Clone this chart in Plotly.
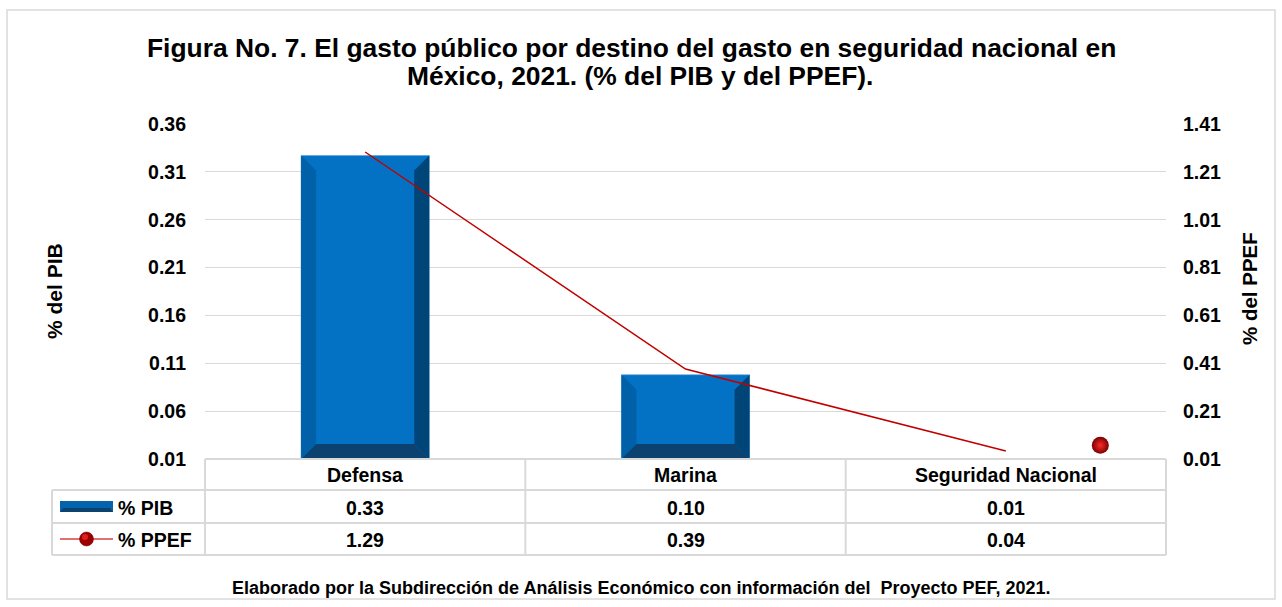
import plotly.graph_objects as go

# ---------------- data ----------------
categories = ["Defensa", "Marina", "Seguridad Nacional"]
pib = [0.327, 0.098, 0.010]
ppef = [1.293, 0.386, 0.043]
series_names = ["% PIB", "% PPEF"]
y1_ticks_range = [0.01, 0.36]
y2_ticks_range = [0.01, 1.41]
title_line1 = "Figura No. 7. El gasto público por destino del gasto en seguridad nacional en"
title_line2 = "México, 2021. (% del PIB y del PPEF)."
y_title = "% del PIB"
y2_title = "% del PPEF"
source = "Elaborado por la Subdirección de Análisis Económico con información del  Proyecto PEF, 2021."

# ---------------- layout geometry (pixels) ----------------
FW, FH = 1282, 607
L, R, T, B = 205, 1166, 124, 459
PW, PH = R - L, B - T


def px(x):
    return (x - L) / PW


def py(y):
    return (B - y) / PH


FONT = "Liberation Sans, Arial, sans-serif"
GRID = "#D9D9D9"
FACE = "#0472C4"
BEV_L = "#0060A8"
BEV_R = "#004578"
BEV_B = "#0C4270"
RED = "#C00000"

n = len(categories)
xs = list(range(n))
bar_w = 0.4
bev_x = 15 / (PW / n)
bev_y = 15 * (y1_ticks_range[1] - y1_ticks_range[0]) / PH
base = y1_ticks_range[0]

fig = go.Figure()

# bar faces
fig.add_trace(go.Bar(x=xs, y=[v - base for v in pib], base=base, width=bar_w,
                     marker=dict(color=FACE, line=dict(color="#5B9BD5", width=0.6)),
                     showlegend=False, hoverinfo="skip"))

# bevels
for i, v in zip(xs, pib):
    if v - base <= 2 * bev_y:
        continue
    x0, x1 = i - bar_w / 2, i + bar_w / 2
    polys = [
        ([x0, x0 + bev_x, x0 + bev_x, x0, x0], [v, v - bev_y, base + bev_y, base, v], BEV_L),
        ([x1, x1 - bev_x, x1 - bev_x, x1, x1], [v, v - bev_y, base + bev_y, base, v], BEV_R),
        ([x0, x0 + bev_x, x1 - bev_x, x1, x0], [base, base + bev_y, base + bev_y, base, base], BEV_B),
    ]
    for xx, yy, c in polys:
        fig.add_trace(go.Scatter(x=xx, y=yy, mode="lines", fill="toself", fillcolor=c,
                                 line=dict(width=0, color=c), showlegend=False, hoverinfo="skip"))

# PPEF line
fig.add_trace(go.Scatter(x=xs, y=ppef, yaxis="y2", mode="lines",
                         line=dict(color=RED, width=1.5), showlegend=False, hoverinfo="skip"))

# sphere marker drawn by the original beside the last point
fig.add_trace(go.Scatter(x=[xs[-1] + 0.295], y=[ppef[-1] + 0.024], yaxis="y2", mode="markers",
                         marker=dict(size=17, color="#7A0000",
                                     gradient=dict(type="radial", color="#FF2A2A"),
                                     line=dict(width=0)),
                         cliponaxis=False, showlegend=False, hoverinfo="skip"))

# ---------------- table ----------------
shapes = []


def hline(y, x0, x1):
    shapes.append(dict(type="line", xref="paper", yref="paper", x0=px(x0), x1=px(x1),
                       y0=py(y), y1=py(y), line=dict(color=GRID, width=2)))


def vline(x, y0, y1):
    shapes.append(dict(type="line", xref="paper", yref="paper", x0=px(x), x1=px(x),
                       y0=py(y0), y1=py(y1), line=dict(color=GRID, width=2)))


ROW0, ROW1, ROW2, ROW3 = 459, 490, 523, 555
TL = 52
hline(ROW0, L, R)
hline(ROW1, TL, R)
hline(ROW2, TL, R)
hline(ROW3, TL, R)
vline(TL, ROW1, ROW3)
for k in range(n + 1):
    vline(L + k * PW / n, ROW0, ROW3)

# outer chart border
shapes.append(dict(type="rect", xref="paper", yref="paper", x0=px(7), x1=px(1275),
                   y0=py(10), y1=py(599), line=dict(color=GRID, width=1.5)))

# legend icons
shapes.append(dict(type="rect", xref="paper", yref="paper", x0=px(60), x1=px(113),
                   y0=py(501), y1=py(512), fillcolor="#0563AE", line=dict(width=0)))
shapes.append(dict(type="path", xref="paper", yref="paper",
                   path="M {},{} L {},{} L {},{} L {},{} Z".format(px(60), py(512), px(63), py(508),
                                                                   px(110), py(508), px(113), py(512)),
                   fillcolor=BEV_B, line=dict(width=0)))
shapes.append(dict(type="line", xref="paper", yref="paper", x0=px(60), x1=px(113),
                   y0=py(539), y1=py(539), line=dict(color="#D84040", width=1.5)))
shapes.append(dict(type="circle", xref="paper", yref="paper", x0=px(79.5), x1=px(93.5),
                   y0=py(532), y1=py(546), fillcolor="#9A0000", line=dict(color="#7A0000", width=0.5)))
shapes.append(dict(type="circle", xref="paper", yref="paper", x0=px(82), x1=px(88),
                   y0=py(534), y1=py(540), fillcolor="#E02020", line=dict(width=0)))

annotations = []
CELL = 19.5


def ann(x, y, text, size, xref="paper", xanchor="center", angle=0):
    annotations.append(dict(x=x, xref=xref, y=y, yref="paper", xanchor=xanchor, yanchor="middle",
                            text="<b>%s</b>" % text, showarrow=False, textangle=angle,
                            font=dict(family=FONT, size=size, color="#000")))


for i, c in enumerate(categories):
    ann(i, py((ROW0 + ROW1) / 2 + 1), c, CELL, xref="x")
    ann(i, py((ROW1 + ROW2) / 2 + 1), "%.2f" % pib[i], CELL, xref="x")
    ann(i, py((ROW2 + ROW3) / 2 + 1), "%.2f" % ppef[i], CELL, xref="x")
for name, (ya, yb) in zip(series_names, [(ROW1, ROW2), (ROW2, ROW3)]):
    ann(px(116), py((ya + yb) / 2 + 1), name, CELL, xanchor="left")

# titles
ann(px(631), py(48), title_line1, 26.4)
ann(px(640), py(76), title_line2, 26.4)
ann(px(54), py(291), y_title, 21, angle=-90)
ann(px(1249), py(289), y2_title, 20.5, angle=-90)
ann(px(641), py(588), source, 18)

fig.update_layout(
    width=FW, height=FH,
    margin=dict(l=L, r=FW - R, t=T, b=FH - B, pad=0),
    paper_bgcolor="white", plot_bgcolor="white",
    barmode="overlay",
    showlegend=False,
    font=dict(family=FONT, color="#000"),
    xaxis=dict(range=[-0.5, n - 0.5], showticklabels=False, showgrid=False,
               zeroline=False, showline=False, fixedrange=True),
    yaxis=dict(range=y1_ticks_range, tick0=0.01, dtick=0.05, tickformat=".2f",
               showgrid=True, gridcolor=GRID, gridwidth=1, zeroline=False, showline=False,
               ticklabelstandoff=18, tickfont=dict(family=FONT, size=19.5, color="#000", weight="bold")),
    yaxis2=dict(range=y2_ticks_range, tick0=0.01, dtick=0.2, tickformat=".2f", overlaying="y",
                side="right", showgrid=False, zeroline=False, showline=False,
                ticklabelstandoff=16, tickfont=dict(family=FONT, size=19.5, color="#000", weight="bold")),
    shapes=shapes,
    annotations=annotations,
)

fig.write_html("out.html", config={"displayModeBar": False},
               post_script="document.body.style.margin='0';document.body.style.overflow='hidden';")
